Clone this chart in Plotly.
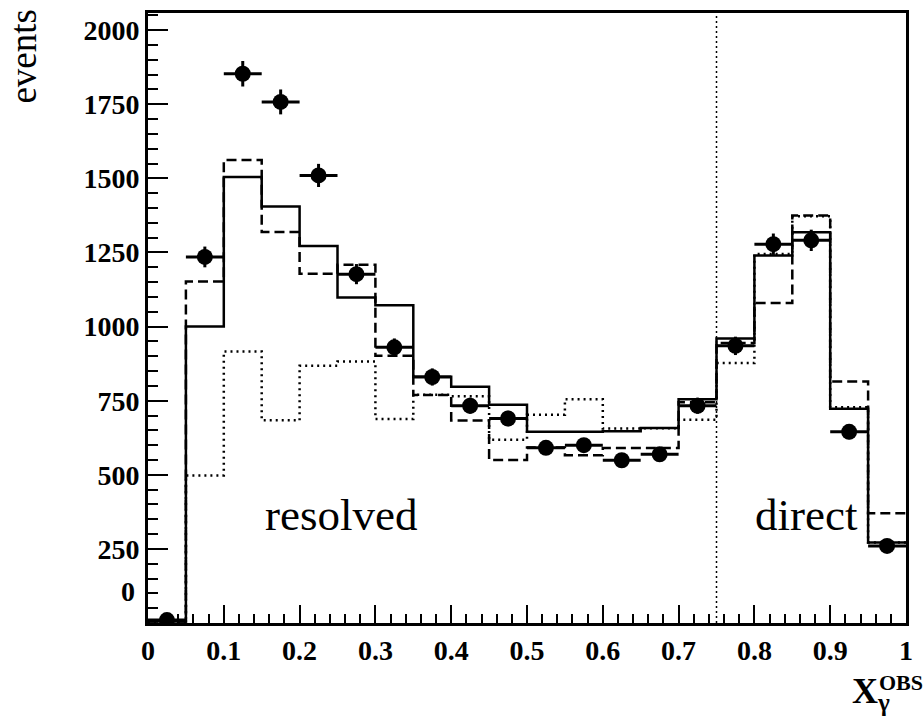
import plotly.graph_objects as go

# ---------------- data ----------------
bin_edges = [0.00, 0.05, 0.10, 0.15, 0.20, 0.25, 0.30, 0.35, 0.40, 0.45, 0.50,
             0.55, 0.60, 0.65, 0.70, 0.75, 0.80, 0.85, 0.90, 0.95, 1.00]
bin_centers = [0.025, 0.075, 0.125, 0.175, 0.225, 0.275, 0.325, 0.375, 0.425, 0.475,
               0.525, 0.575, 0.625, 0.675, 0.725, 0.775, 0.825, 0.875, 0.925, 0.975]
bin_half_width = [0.025] * 20

data_events = [10, 1235, 1853, 1758, 1510, 1177, 930, 830, 733, 690,
               591, 600, 549, 569, 733, 935, 1278, 1291, 645, 260]
data_errors = [8, 35, 43, 42, 39, 34, 30, 29, 27, 26,
               24, 24, 23, 24, 27, 31, 36, 36, 25, 16]

mc_solid = [5, 1000, 1505, 1405, 1272, 1098, 1072, 831, 797, 736,
            645, 645, 647, 658, 755, 960, 1240, 1318, 723, 272]
mc_dashed = [5, 1152, 1562, 1319, 1178, 1209, 902, 769, 683, 550,
             592, 566, 590, 590, 745, 945, 1080, 1375, 815, 370]
mc_dotted = [0, 498, 916, 684, 868, 882, 688, 770, 765, 618,
             703, 755, 656, 657, 686, 877, 1245, 1372, 728, 272]

y_tick_vals = [250, 500, 750, 1000, 1250, 1500, 1750, 2000]
y_tick_text = ["250", "500", "750", "1000", "1250", "1500", "1750", "2000"]

cut_value = 0.75
y_max = 2058

FONT = "Liberation Serif"

fig = go.Figure()


def step_trace(values, dash, width):
    return go.Scatter(
        x=bin_edges,
        y=list(values) + [values[-1]],
        mode="lines",
        line=dict(shape="hv", color="black", width=width, dash=dash),
        hoverinfo="skip",
        showlegend=False,
    )


fig.add_trace(step_trace(mc_dotted, "2px,4px", 2.5))
fig.add_trace(step_trace(mc_dashed, "10px,5px", 2.5))
fig.add_trace(step_trace(mc_solid, "solid", 2.5))

fig.add_trace(go.Scatter(
    x=bin_centers, y=data_events, mode="markers",
    marker=dict(symbol="circle", size=16, color="black"),
    error_x=dict(type="data", array=bin_half_width, color="black", thickness=3, width=0),
    error_y=dict(type="data", array=data_errors, color="black", thickness=3, width=0),
    showlegend=False,
))

fig.add_shape(type="line", xref="x", yref="paper", x0=cut_value, x1=cut_value, y0=0, y1=1,
              line=dict(color="black", width=1.5, dash="2px,3px"))

fig.add_annotation(x=0.254, y=365, xref="x", yref="y", text="resolved", showarrow=False,
                   font=dict(family=FONT, size=45, color="black"), xanchor="center", yanchor="middle")
fig.add_annotation(x=0.869, y=365, xref="x", yref="y", text="direct", showarrow=False,
                   font=dict(family=FONT, size=45, color="black"), xanchor="center", yanchor="middle")

# y label
fig.add_annotation(x=-0.135, y=1.01, xref="paper", yref="paper", text="events", showarrow=False,
                   textangle=-90, font=dict(family=FONT, size=37, color="black"),
                   xanchor="right", yanchor="top")
# shifted "0" label on y axis
fig.add_annotation(x=-0.015, y=105, xref="paper", yref="y", text="0", showarrow=False,
                   font=dict(family=FONT, size=28, color="black", weight="bold"),
                   xanchor="right", yanchor="middle")
# x label: X_gamma with OBS superscript
fig.add_annotation(x=0.926, y=-0.075, xref="paper", yref="paper",
                   text="X<sub>γ</sub>", showarrow=False,
                   font=dict(family=FONT, size=36, color="black", weight="bold"),
                   xanchor="left", yanchor="top")
fig.add_annotation(x=1.025, y=-0.097, xref="paper", yref="paper",
                   text="OBS", showarrow=False,
                   font=dict(family=FONT, size=22, color="black", weight="bold"),
                   xanchor="right", yanchor="middle")

fig.update_layout(
    width=924, height=721,
    margin=dict(l=148, r=18, t=10, b=98),
    plot_bgcolor="white", paper_bgcolor="white",
    showlegend=False,
    xaxis=dict(
        range=[0, 1], tickmode="linear", tick0=0, dtick=0.1,
        ticks="inside", ticklen=18, tickwidth=2, tickcolor="black",
        minor=dict(dtick=0.02, ticks="inside", ticklen=9, tickwidth=2, tickcolor="black"),
        showline=True, linewidth=3, linecolor="black", mirror=True,
        showgrid=False, zeroline=False,
        tickfont=dict(family=FONT, size=28, color="black", weight="bold"),
    ),
    yaxis=dict(
        range=[0, y_max], tickmode="array", tickvals=y_tick_vals, ticktext=y_tick_text,
        ticks="inside", ticklen=20, tickwidth=2, tickcolor="black",
        minor=dict(dtick=50, ticks="inside", ticklen=10, tickwidth=2, tickcolor="black"),
        showline=True, linewidth=3, linecolor="black", mirror=True,
        showgrid=False, zeroline=False,
        tickfont=dict(family=FONT, size=28, color="black", weight="bold"),
    ),
)

fig.write_html("out.html")
